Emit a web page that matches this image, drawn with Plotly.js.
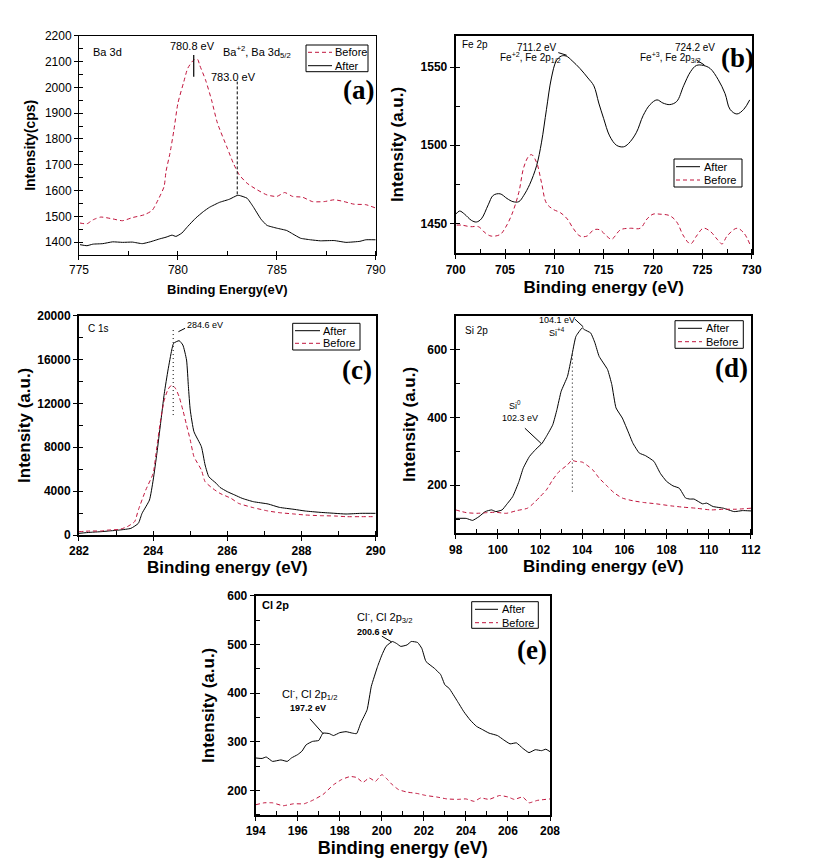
<!DOCTYPE html>
<html><head><meta charset="utf-8">
<script src="https://cdn.plot.ly/plotly-3.0.1.min.js"></script>
<style>html,body{margin:0;padding:0;background:#fff}#chart{width:814px;height:867px}</style>
</head><body><div id="chart"></div>
<script>
// ---------- (a) Ba 3d ----------
const baBeforeX = [775.05,775.4,775.7,776.1,776.7,777.2,777.7,778.3,778.7,779.0,779.3,779.4,779.6,779.8,780.0,780.3,780.5,780.8,781.0,781.1,781.4,781.7,782.0,782.5,782.8,783.1,783.5,784.0,784.5,785.0,785.4,785.8,786.3,786.8,787.4,787.9,788.4,788.9,789.5,790.0];
const baBeforeY = [1474,1471,1486,1497,1490,1483,1495,1506,1523,1564,1615,1674,1745,1835,1938,2022,2074,2106,2108,2086,2028,1951,1861,1764,1706,1661,1628,1603,1583,1577,1592,1577,1574,1557,1557,1564,1557,1547,1545,1532];
const baAfterX = [775.05,775.4,775.7,776.2,776.7,777.2,777.7,778.2,778.6,779.1,779.4,779.7,779.9,780.2,780.5,780.9,781.3,781.6,782.1,782.6,783.0,783.1,783.5,783.8,784.2,784.5,785.0,785.5,785.8,786.2,786.7,787.2,787.9,788.5,789.2,789.5,790.0];
const baAfterY = [1390,1386,1392,1394,1401,1399,1400,1394,1401,1413,1419,1427,1422,1435,1461,1493,1519,1535,1554,1566,1581,1581,1570,1538,1489,1465,1454,1445,1432,1415,1409,1405,1406,1399,1403,1409,1409];

// ---------- (b) Fe 2p ----------
const feAfterX = [700.0,700.4,700.9,701.6,702.1,702.6,703.3,703.8,704.5,705.2,705.8,706.4,706.9,707.5,708.2,708.7,709.2,709.7,710.2,710.7,711.2,711.8,712.6,713.4,714.0,714.5,715.0,715.6,716.3,717.0,717.5,718.3,719.0,719.7,720.4,721.0,721.7,722.4,723.1,723.8,724.4,725.1,725.8,726.6,727.3,727.8,728.5,729.2,729.8];
const feAfterY = [1456,1458,1456,1452,1451,1453,1462,1468,1469,1466,1464,1464,1468,1475,1487,1502,1523,1543,1554,1557,1557,1554,1549,1543,1538,1527,1517,1506,1500,1499,1501,1508,1519,1526,1529,1527,1526,1528,1538,1547,1551,1551,1549,1542,1533,1523,1520,1523,1529];
const feBeforeX = [700.1,700.6,701.5,702.3,703.0,703.6,704.5,705.0,705.7,706.4,706.9,707.4,707.7,708.2,708.7,709.2,709.9,710.6,711.3,711.9,712.6,713.3,714.0,714.6,715.3,715.8,716.7,717.7,718.7,719.4,720.0,720.7,721.7,722.4,723.1,723.8,724.4,725.1,725.8,726.5,727.0,727.5,728.5,729.2,729.8];
const feBeforeY = [1449,1449,1448,1448,1444,1442,1443,1447,1456,1470,1486,1493,1494,1489,1476,1463,1459,1457,1453,1447,1442,1442,1446,1446,1442,1440,1446,1447,1447,1453,1456,1456,1455,1451,1442,1437,1442,1447,1445,1440,1437,1442,1447,1444,1437];

// ---------- (c) C 1s ----------
const cAfterX = [282.0,282.3,282.6,282.8,283.1,283.4,283.6,283.7,283.9,284.0,284.1,284.2,284.3,284.4,284.5,284.55,284.7,284.8,284.9,284.95,285.0,285.1,285.3,285.4,285.5,285.7,285.8,286.0,286.2,286.4,286.7,287.1,287.4,287.8,288.1,288.5,288.9,289.2,289.6,290.0];
const cAfterY = [152,243,304,365,456,608,1064,1976,3191,5015,7447,10182,12918,15046,16869,17477,17720,17325,15957,13526,11398,9422,8055,6383,5319,4711,4347,3951,3647,3343,3040,2827,2523,2340,2188,2067,1976,1915,1976,1976];
const cBeforeX = [282.0,282.3,282.6,282.8,283.1,283.3,283.5,283.6,283.8,284.0,284.1,284.2,284.3,284.4,284.5,284.6,284.7,284.8,284.9,285.0,285.1,285.3,285.4,285.6,285.8,286.1,286.3,286.7,287.1,287.4,287.8,288.1,288.5,288.9,289.2,289.6,290.0];
const cBeforeY = [304,365,365,456,517,760,1216,2280,4103,5623,8055,10486,12310,13283,13678,13374,12614,11398,10030,8663,7143,5927,4863,4255,3799,3343,2888,2492,2188,2036,1915,1824,1763,1733,1672,1672,1672];

// ---------- (d) Si 2p ----------
const siAfterX = [98.0,98.5,98.8,99.1,99.4,99.7,99.9,100.2,100.4,100.7,101.0,101.2,101.5,101.8,102.1,102.3,102.6,102.8,103.0,103.3,103.5,103.7,104.0,104.1,104.4,104.6,104.8,105.2,105.4,105.6,105.9,106.2,106.4,106.7,107.0,107.4,107.7,108.0,108.3,108.6,108.9,109.1,109.3,109.7,109.9,110.2,110.7,111.2,111.6,112.0];
const siAfterY = [102,102,96,107,122,127,122,127,142,166,211,250,285,306,324,344,378,423,477,521,580,639,664,659,649,620,580,541,497,428,398,354,324,295,287,270,235,211,198,191,162,159,159,145,147,137,132,122,125,124];
const siBeforeX = [98.0,98.5,99.0,99.5,99.9,100.4,100.9,101.4,101.7,102.0,102.3,102.6,102.9,103.3,103.5,103.7,104.0,104.2,104.5,104.8,105.2,105.5,105.9,106.4,106.9,107.5,108.2,108.8,109.4,110.1,110.7,111.3,112.0];
const siBeforeY = [127,119,117,119,120,117,125,132,147,166,186,216,240,260,273,270,268,260,245,221,196,178,162,154,149,145,139,135,132,127,129,129,132];

// ---------- (e) Cl 2p ----------
const clAfterX = [194.0,194.3,194.5,194.8,195.2,195.5,195.7,196.0,196.2,196.4,196.7,197.0,197.2,197.5,197.7,198.0,198.3,198.6,198.8,199.0,199.3,199.5,199.8,200.0,200.2,200.5,200.7,200.9,201.2,201.4,201.7,201.9,202.1,202.5,202.8,203.0,203.2,203.6,203.9,204.2,204.5,204.8,205.1,205.5,205.8,206.1,206.4,206.7,207.0,207.3,207.6,207.8,208.0];
const clAfterY = [267,266,269,260,263,260,267,274,281,294,301,303,318,317,313,319,321,318,317,339,366,414,455,478,496,506,502,496,499,506,504,492,465,451,438,417,410,383,362,345,332,325,318,313,304,296,298,287,278,284,282,285,280];
const clBeforeX = [194.0,194.4,194.8,195.3,195.8,196.3,196.7,197.2,197.7,198.1,198.5,198.8,199.1,199.4,199.7,200.0,200.2,200.5,200.8,201.2,201.7,202.1,202.6,203.1,203.6,204.0,204.4,204.7,205.1,205.6,206.0,206.3,206.7,207.0,207.4,208.0];
const clBeforeY = [171,175,175,169,173,173,180,192,212,223,229,227,217,226,219,233,226,212,202,197,194,190,187,183,182,183,178,185,182,190,187,182,187,175,180,183];

// peak marker lines  [x, yFrom, yTo]
const baMarkBefore = [780.8, 2041, 2125];
const baMarkAfter  = [783.0, 1585, 2022];
const cMark  = [284.54, 10940, 18700];
const siMark = [103.53, 181, 590];

const RED = '#c0143c';
const FONT = 'Liberation Sans, Arial, sans-serif';
const SERIF = 'Liberation Serif, Times New Roman, serif';

function tr(x, y, xa, ya, kind, smooth) {
  const before = kind === 'Before';
  return {
    x: x, y: y, xaxis: xa, yaxis: ya, type: 'scatter', mode: 'lines', name: kind,
    showlegend: false,
    line: {color: before ? RED : '#000', width: 1, dash: before ? '4px,3px' : 'solid',
           shape: smooth ? 'spline' : 'linear', smoothing: smooth || 0}
  };
}

const data = [
  tr(baBeforeX, baBeforeY, 'x', 'y', 'Before', 0.6),
  tr(baAfterX, baAfterY, 'x', 'y', 'After', 0.4),
  tr(feAfterX, feAfterY, 'x2', 'y2', 'After', 1),
  tr(feBeforeX, feBeforeY, 'x2', 'y2', 'Before', 1),
  tr(cAfterX, cAfterY, 'x3', 'y3', 'After', 0.5),
  tr(cBeforeX, cBeforeY, 'x3', 'y3', 'Before', 0.5),
  tr(siAfterX, siAfterY, 'x4', 'y4', 'After', 0.4),
  tr(siBeforeX, siBeforeY, 'x4', 'y4', 'Before', 0.6),
  tr(clAfterX, clAfterY, 'x5', 'y5', 'After', 0.4),
  tr(clBeforeX, clBeforeY, 'x5', 'y5', 'Before', 0.4)
];

function xax(o) {
  return {
    domain: o.domain, range: o.range, autorange: false, anchor: o.anchor,
    dtick: o.dtick, tick0: o.tick0, ticks: 'outside', ticklen: 4, tickwidth: 1, tickcolor: '#000',
    tickformat: 'd',
    minor: {dtick: o.minor, ticks: 'inside', ticklen: 4, tickwidth: 1, tickcolor: '#000', showgrid: false},
    showline: true, mirror: true, linecolor: '#000', linewidth: o.lw,
    showgrid: false, zeroline: false,
    tickfont: {family: FONT, size: 12, color: '#000', weight: o.tickBold ? 'bold' : 'normal'},
    title: {text: o.title, standoff: o.standoff, font: {family: FONT, size: o.titleSize, color: '#000', weight: 'bold'}}
  };
}
function yax(o) {
  const a = xax(o);
  a.minor.ticks = 'inside';
  return a;
}

const layout = {
  width: 814, height: 867, margin: {l: 0, r: 0, t: 0, b: 0},
  paper_bgcolor: '#fff', plot_bgcolor: '#fff', showlegend: false,
  xaxis:  xax({domain: [0.09705, 0.46155], range: [775, 790], anchor: 'y', dtick: 5, tick0: 775, minor: 2.5, lw: 1, tickBold: false, title: 'Binding Energy(eV)', titleSize: 13, standoff: 8}),
  yaxis:  yax({domain: [0.70588, 0.95882], range: [1350, 2200], anchor: 'x', dtick: 100, tick0: 1400, minor: 50, lw: 1, tickBold: false, title: 'Intensity(cps)', titleSize: 14, standoff: 5}),
  xaxis2: xax({domain: [0.55983, 0.92346], range: [700, 730], anchor: 'y2', dtick: 5, tick0: 700, minor: 2.5, lw: 2, tickBold: true, title: 'Binding energy (eV)', titleSize: 17, standoff: 5}),
  yaxis2: yax({domain: [0.70784, 0.95882], range: [1431, 1570], anchor: 'x2', dtick: 50, tick0: 1450, minor: 25, lw: 2, tickBold: true, title: 'Intensity (a.u.)', titleSize: 17, standoff: 13}),
  xaxis3: xax({domain: [0.09705, 0.46155], range: [282, 290], anchor: 'y3', dtick: 2, tick0: 282, minor: 1, lw: 2, tickBold: true, title: 'Binding energy (eV)', titleSize: 17, standoff: 4}),
  yaxis3: yax({domain: [0.38293, 0.63587], range: [0, 20000], anchor: 'x3', dtick: 4000, tick0: 0, minor: 2000, lw: 2, tickBold: true, title: 'Intensity (a.u.)', titleSize: 17, standoff: 2}),
  xaxis4: xax({domain: [0.55983, 0.92260], range: [98, 112], anchor: 'y4', dtick: 2, tick0: 98, minor: 1, lw: 2, tickBold: true, title: 'Binding energy (eV)', titleSize: 17, standoff: 4}),
  yaxis4: yax({domain: [0.38489, 0.63587], range: [58, 700], anchor: 'x4', dtick: 200, tick0: 0, minor: 100, lw: 2, tickBold: true, title: 'Intensity (a.u.)', titleSize: 17, standoff: 7}),
  xaxis5: xax({domain: [0.31413, 0.67568], range: [194, 208], anchor: 'y5', dtick: 2, tick0: 194, minor: 1, lw: 2, tickBold: true, title: 'Binding energy (eV)', titleSize: 18, standoff: 3}),
  yaxis5: yax({domain: [0.05998, 0.31292], range: [150, 600], anchor: 'x5', dtick: 100, tick0: 0, minor: 50, lw: 2, tickBold: true, title: 'Intensity (a.u.)', titleSize: 17, standoff: 8}),
  annotations: [],
  shapes: []
};

const A = layout.annotations, S = layout.shapes;
function txt(xr, yr, x, y, t, size, anchor, extra) {
  A.push(Object.assign({xref: xr, yref: yr, x: x, y: y, text: t, showarrow: false, xanchor: anchor || 'left', yanchor: 'middle',
    font: {family: FONT, size: size, color: '#000'}}, extra || {}));
}
function seg(xr, yr, x0, y0, x1, y1, dash, w) {
  S.push({type: 'line', xref: xr, yref: yr, x0: x0, y0: y0, x1: x1, y1: y1, line: {color: '#000', width: w || 1, dash: dash || 'solid'}});
}
const P = px => px / 814, Q = py => 1 - py / 867;
function legendBox(x0, y0, x1, y1, entries) {
  S.push({type: 'rect', xref: 'paper', yref: 'paper', x0: P(x0), x1: P(x1), y0: Q(y1), y1: Q(y0), line: {color: '#000', width: 1}, fillcolor: 'rgba(0,0,0,0)'});
  entries.forEach(e => {
    const before = e.name === 'Before';
    S.push({type: 'line', xref: 'paper', yref: 'paper', x0: P(e.l0), x1: P(e.l1), y0: Q(e.y), y1: Q(e.y),
      line: {color: before ? RED : '#000', width: 1, dash: before ? '4px,3px' : 'solid'}});
    txt('paper', 'paper', P(e.t), Q(e.y), e.name, 11, 'left');
  });
}
function label(x, y, t) {
  txt('paper', 'paper', P(x), Q(y), t, 27, 'center', {font: {family: SERIF, size: 27, color: '#000', weight: 'bold'}});
}
const DOT = '1px,3px';

// (a)
txt('x', 'y', 775.6, 2138, 'Ba 3d', 11);
txt('x', 'y', 780.76, 2160, '780.8 eV', 11, 'center');
txt('x', 'y', 782.2, 2137, 'Ba<sup>+2</sup>, Ba 3d<sub>5/2</sub>', 11);
txt('x', 'y', 782.8, 2041, '783.0 eV', 11, 'center');
seg('x', 'y', baMarkBefore[0], baMarkBefore[1], baMarkBefore[0], baMarkBefore[2], 'solid', 1.2);
seg('x', 'y', baMarkAfter[0], baMarkAfter[1], baMarkAfter[0], baMarkAfter[2], '3px,2px', 1);
legendBox(306, 45, 368, 71.7, [{name: 'Before', y: 52.3, l0: 308, l1: 332, t: 333}, {name: 'After', y: 65.7, l0: 308, l1: 332, t: 333}]);
label(358, 90, '(a)');

// (b)
txt('x2', 'y2', 700.4, 1564.5, 'Fe 2p', 10);
txt('x2', 'y2', 708.2, 1562.6, '711.2 eV', 10, 'center');
txt('x2', 'y2', 704.3, 1556, 'Fe<sup>+2</sup>, Fe 2p<sub>1/2</sub>', 10);
seg('x2', 'y2', 710.4, 1559.2, 711.25, 1557.5);
txt('x2', 'y2', 724.3, 1562.6, '724.2 eV', 10, 'center');
txt('x2', 'y2', 718.5, 1556, 'Fe<sup>+3</sup>, Fe 2p<sub>3/2</sub>', 10);
seg('x2', 'y2', 724.4, 1554.5, 725.2, 1551.3);
legendBox(674, 159, 742, 187, [{name: 'After', y: 166.7, l0: 676, l1: 700, t: 702}, {name: 'Before', y: 180, l0: 676, l1: 700, t: 702}]);
label(737, 58, '(b)');

// (c)
txt('x3', 'y3', 282.2, 18850, 'C 1s', 10);
txt('x3', 'y3', 284.86, 19150, '284.6 eV', 9);
seg('x3', 'y3', 284.68, 18540, 284.86, 18850);
seg('x3', 'y3', cMark[0], cMark[1], cMark[0], cMark[2], DOT, 1);
legendBox(292.7, 323.3, 360, 350, [{name: 'After', y: 330.7, l0: 295, l1: 320, t: 321}, {name: 'Before', y: 343.3, l0: 295, l1: 320, t: 321}]);
label(357, 370, '(c)');

// (d)
txt('x4', 'y4', 98.36, 657, 'Si 2p', 10);
txt('x4', 'y4', 102.82, 686, '104.1 eV', 9, 'center');
txt('x4', 'y4', 102.31, 651, 'Si<sup>+4</sup>', 9);
seg('x4', 'y4', 103.65, 690, 104.05, 667);
txt('x4', 'y4', 100.81, 437, 'Si<sup>0</sup>', 9, 'center');
txt('x4', 'y4', 101.05, 398, '102.3 eV', 9, 'center');
seg('x4', 'y4', 101.28, 368, 102.07, 322);
seg('x4', 'y4', siMark[0], siMark[1], siMark[0], siMark[2], DOT, 1);
legendBox(675, 320.7, 743.3, 348.3, [{name: 'After', y: 328.3, l0: 678, l1: 702, t: 704}, {name: 'Before', y: 341.7, l0: 678, l1: 702, t: 704}]);
label(731.7, 368.3, '(d)');

// (e)
txt('x5', 'y5', 194.2, 581, 'Cl 2p', 11, 'left', {font: {family: FONT, size: 11, color: '#000', weight: 'bold'}});
txt('x5', 'y5', 198.72, 556.7, 'Cl<sup>-</sup>, Cl 2p<sub>3/2</sub>', 11);
txt('x5', 'y5', 198.72, 524.5, '200.6 eV', 9, 'left', {font: {family: FONT, size: 9, color: '#000', weight: 'bold'}});
seg('x5', 'y5', 200.0, 517, 200.47, 505);
txt('x5', 'y5', 195.16, 398.7, 'Cl<sup>-</sup>, Cl 2p<sub>1/2</sub>', 11);
txt('x5', 'y5', 195.55, 369, '197.2 eV', 9, 'left', {font: {family: FONT, size: 9, color: '#000', weight: 'bold'}});
seg('x5', 'y5', 196.58, 347.3, 197.22, 316.3);
legendBox(471.7, 601.7, 538.3, 628.3, [{name: 'After', y: 609.3, l0: 475, l1: 498, t: 500}, {name: 'Before', y: 622.7, l0: 475, l1: 498, t: 500}]);
label(531.7, 650, '(e)');

Plotly.newPlot('chart', data, layout, {staticPlot: true, displayModeBar: false});
</script></body></html>
